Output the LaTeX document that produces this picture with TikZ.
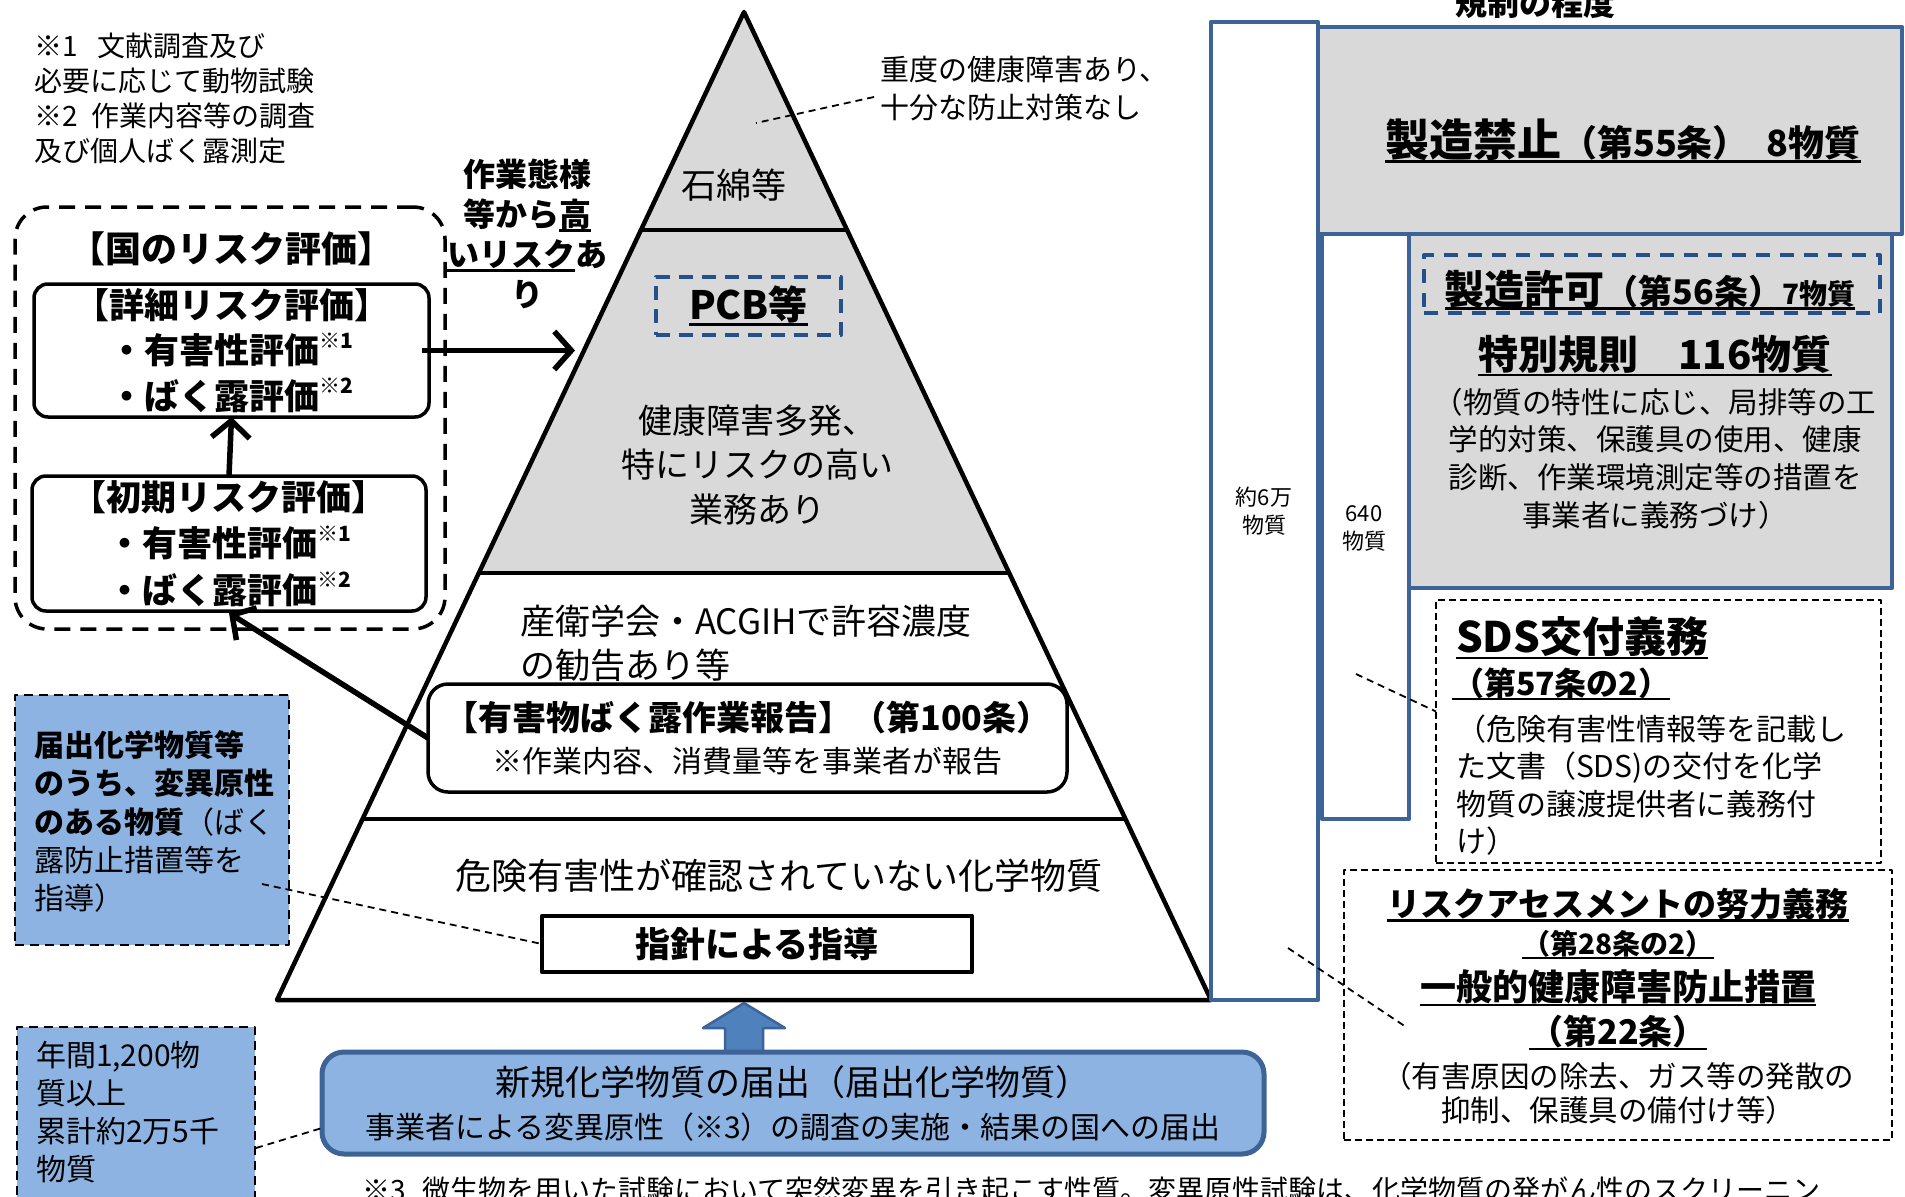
\documentclass[tikz,border=0pt]{standalone}
\usepackage{fontspec}
\setmainfont{Noto Sans CJK JP}
\usetikzlibrary{arrows.meta,calc}
\definecolor{grayfill}{HTML}{D9D9D9}
\definecolor{bluefill}{HTML}{8DB3E2}
\definecolor{blueline}{HTML}{3D6397}
\definecolor{arrowfill}{HTML}{4F81BD}
\definecolor{pcbblue}{HTML}{24508C}
\newsavebox{\ulbox}
\newcommand{\myul}[1]{\sbox{\ulbox}{#1}\leavevmode\rlap{\raisebox{-0.16em}{\rule{\wd\ulbox}{2.5pt}}}\usebox{\ulbox}}
\newcommand{\fs}[2]{\fontsize{#1}{#2}\selectfont}
\newcommand{\sups}[1]{\raisebox{0.45em}{\fontsize{21}{21}\selectfont #1}}
\begin{document}
\begin{tikzpicture}[x=1pt,y=-1pt,line join=round,
  every node/.style={inner sep=0pt,outer sep=0pt},
  pyr/.style={line width=4.5pt},
  rbox/.style={draw,line width=3.5pt,rounded corners=14pt,align=center},
  bigdash/.style={draw,line width=3.5pt,dash pattern=on 16pt off 10pt,rounded corners=32pt},
  bluebox/.style={draw,fill=bluefill,line width=2.5pt,dash pattern=on 9pt off 6pt},
  thindash/.style={draw,line width=1.6pt,dash pattern=on 7pt off 4pt},
  thinconn/.style={line width=1.8pt,dash pattern=on 7pt off 5pt},
  blueframe/.style={draw=blueline,line width=4.5pt},
  bigarrow/.style={line width=5.5pt,-{Straight Barb[length=17pt,width=38pt]}},
  txt/.style={align=center}]
\useasboundingbox (0,0) rectangle (1905,1196);
\clip (0,0) rectangle (1905,1196);

% ---------- pyramid ----------
\coordinate (A) at (744,12);
\coordinate (BL) at (277,1000);
\coordinate (BR) at (1211,1000);
\coordinate (L1) at ($(A)!0.2206!(BL)$);
\coordinate (R1) at ($(A)!0.2206!(BR)$);
\coordinate (L2) at ($(A)!0.5678!(BL)$);
\coordinate (R2) at ($(A)!0.5678!(BR)$);
\coordinate (L3) at ($(A)!0.8168!(BL)$);
\coordinate (R3) at ($(A)!0.8168!(BR)$);
\fill[grayfill] (A) -- (L2) -- (R2) -- cycle;
\draw[pyr] (L1) -- (R1);
\draw[pyr] (L2) -- (R2);
\draw[pyr] (L3) -- (R3);
\draw[pyr] (A) -- (BL) -- (BR) -- cycle;

\node[font=\fs{35}{40}] (ishiwata) at (734,185) {石綿等};
\node[draw=pcbblue,line width=4pt,dash pattern=on 14pt off 9pt,minimum width=185pt,minimum height=58pt,font=\bfseries\fs{39}{42}] (pcb) at (748.5,306) {\myul{PCB等}};
\node[txt,font=\fs{34}{44.5}] (kenko) at (757,465) {健康障害多発、\\特にリスクの高い\\業務あり};
\node[align=left,anchor=west,font=\fs{35}{44}] (sanei) at (520,643) {産衛学会・ACGIHで許容濃度\\の勧告あり等};
\node[rbox,rounded corners=20pt,minimum width=639pt,minimum height=108pt,font=\fs{30}{42}] (report) at (747.5,738) {{\bfseries\fs{34}{42}【有害物ばく露作業報告】（第100条）}\\※作業内容、消費量等を事業者が報告};
\node[font=\fs{36}{40}] (kiken) at (779,876) {危険有害性が確認されていない化学物質};
\node[draw,line width=4.5pt,minimum width=430pt,minimum height=56pt,font=\bfseries\fs{35}{40}] (guide) at (757,944) {\raisebox{-4pt}{指針による指導}};

\node[align=left,anchor=west,font=\fs{29}{38}] (judo) at (880,89) {重度の健康障害あり、\\十分な防止対策なし};
\coordinate (judoend) at (756,123);
\draw[thinconn] ([xshift=-6pt,yshift=-8pt]judo.west) -- (judoend);

% ---------- block arrow and notification ----------
\filldraw[fill=arrowfill,draw=blueline,line width=2.5pt] (744,1003) -- (785,1028) -- (763,1028) -- (763,1054) -- (725,1054) -- (725,1028) -- (703,1028) -- cycle;
\node[draw=blueline,fill=bluefill,line width=5pt,rounded corners=22pt,minimum width=942pt,minimum height=102pt,align=center,font=\fs{30}{43}] (newchem) at (793,1103) {{\fs{35}{43}新規化学物質の届出（届出化学物質）}\\事業者による変異原性（※3）の調査の実施・結果の国への届出};
\node[anchor=west,font=\fs{28}{34}] (note3) at (362,1190) {※3\hspace{0.6em}微生物を用いた試験において突然変異を引き起こす性質。変異原性試験は、化学物質の発がん性のスクリーニン};

% ---------- left side ----------
\node[align=left,anchor=west,font=\fs{28}{35}] (notes) at (34,98) {※1\hspace{0.7em}文献調査及び\\必要に応じて動物試験\\※2\hspace{0.5em}作業内容等の調査\\及び個人ばく露測定};
\node[txt,font=\bfseries\fs{32}{40}] (takai) at (527,234) {作業態様\\等から\myul{高}\\\myul{いリスク}あ\\り};

\node[bigdash,minimum width=430pt,minimum height=422pt] (kuni) at (230,418) {};
\node[font=\bfseries\fs{36}{40}] (kunit) at (231,249) {【国のリスク評価】};
\node[rbox,minimum width=395pt,minimum height=133pt,font=\bfseries\fs{35}{45.5}] (detail) at (231.5,350.5) {【詳細リスク評価】\\・有害性評価\sups{※1}\\・ばく露評価\sups{※2}};
\node[rbox,minimum width=394pt,minimum height=135pt,font=\bfseries\fs{35}{46.5}] (initial) at (229,543.5) {【初期リスク評価】\\・有害性評価\sups{※1}\\・ばく露評価\sups{※2}};

\coordinate (pyrhit) at (575,345);
\draw[bigarrow] ([xshift=-7pt]detail.east) -- (detail.east -| pyrhit);
\draw[bigarrow] (initial.north) -- (detail.south);
\draw[bigarrow] (report.west) -- ([yshift=-2pt]initial.south);

\node[bluebox,minimum width=274pt,minimum height=250pt] (todoke) at (152,820) {};
\node[align=left,anchor=west,font=\fs{30}{38.3}] (todoket) at (34,821.5) {\textbf{届出化学物質等}\\\textbf{のうち、変異原性}\\\textbf{のある物質}（ばく\\露防止措置等を\\指導）};
\coordinate (todokept) at (262,884);
\draw[thinconn] (todokept) -- (guide.west);

\node[bluebox,minimum width=238pt,minimum height=220pt,anchor=north west] (nenkan) at (17,1027) {};
\node[align=left,anchor=west,font=\fs{30}{38}] (nenkant) at (36,1112) {年間1,200物\\質以上\\累計約2万5千\\物質};
\coordinate (nenkanpt) at (256,1148);
\draw[thinconn] (nenkanpt) -- ([yshift=-25pt]newchem.west);

% ---------- right side ----------
\node[font=\bfseries\fs{32}{36}] (kisei) at (1535,3) {規制の程度};
\node[blueframe,fill=white,minimum width=107pt,minimum height=978pt,anchor=north west] (col6) at (1211,22) {};
\node[txt,font=\fs{22}{28}] (col6t) at (1264,511) {約6万\\物質};
\node[blueframe,fill=grayfill,minimum width=584pt,minimum height=207pt,anchor=north west] (kinshi) at (1318,27) {};
\node[font=\bfseries\fs{36}{40}] (kinshit) at (1623,141) {\myul{{\fs{44}{48}製造禁止}（第55条）\hspace{0.5em}8物質}};
\node[blueframe,fill=white,minimum width=87pt,minimum height=585pt,anchor=north west] (col640) at (1322,234) {};
\node[txt,font=\fs{22}{28}] (col640t) at (1364,528) {640\\物質};
\node[blueframe,fill=grayfill,minimum width=483pt,minimum height=354pt,anchor=north west] (toku) at (1409,234) {};
\node[draw=pcbblue,line width=4pt,dash pattern=on 14pt off 10pt,minimum width=456pt,minimum height=58pt,anchor=north west] (kyoka) at (1424,255) {};
\node[font=\bfseries\fs{34}{40}] (kyokat) at (1650,290) {\myul{{\fs{40}{44}製造許可}（第56条）{\fs{28}{30}7物質}}};
\node[font=\bfseries\fs{40}{44}] (tokut) at (1655,356) {\myul{特別規則\hspace{1em}116物質}};
\node[txt,font=\fs{29.5}{37.7}] (tokub) at (1655,458.5) {（物質の特性に応じ、局排等の工\\学的対策、保護具の使用、健康\\診断、作業環境測定等の措置を\\事業者に義務づけ）};

\node[thindash,minimum width=445pt,minimum height=263pt,anchor=north west] (sds) at (1436,600) {};
\node[anchor=west,font=\bfseries\fs{42}{46}] (sdst) at (1456,638) {\myul{SDS交付義務}};
\node[anchor=west,font=\bfseries\fs{32}{36}] (sds2) at (1452,684) {\myul{（第57条の2）}};
\node[align=left,anchor=west,font=\fs{30}{37.5}] (sdsb) at (1456,785) {（危険有害性情報等を記載し\\た文書（SDS)の交付を化学\\物質の譲渡提供者に義務付\\け）};
\coordinate (sdspt) at (1356,674);
\draw[thinconn] (sdspt) -- ([yshift=20pt]sds.west);

\node[thindash,minimum width=548pt,minimum height=270pt,anchor=north west] (risk) at (1344,870) {};
\node[font=\bfseries\fs{33}{36}] (r1) at (1618,905) {\myul{リスクアセスメントの努力義務}};
\node[font=\bfseries\fs{28}{32}] (r2) at (1618,945) {\myul{（第28条の2）}};
\node[font=\bfseries\fs{36}{40}] (r3) at (1618,988) {\myul{一般的健康障害防止措置}};
\node[font=\bfseries\fs{34}{38}] (r4) at (1618,1033) {\myul{（第22条）}};
\node[txt,font=\fs{29.5}{34}] (r5) at (1618,1093) {（有害原因の除去、ガス等の発散の\\抑制、保護具の備付け等）};
\coordinate (riskpt1) at (1288,948);
\coordinate (riskpt2) at (1406,1027);
\draw[thinconn] (riskpt1) -- (riskpt2);
\end{tikzpicture}
\end{document}
